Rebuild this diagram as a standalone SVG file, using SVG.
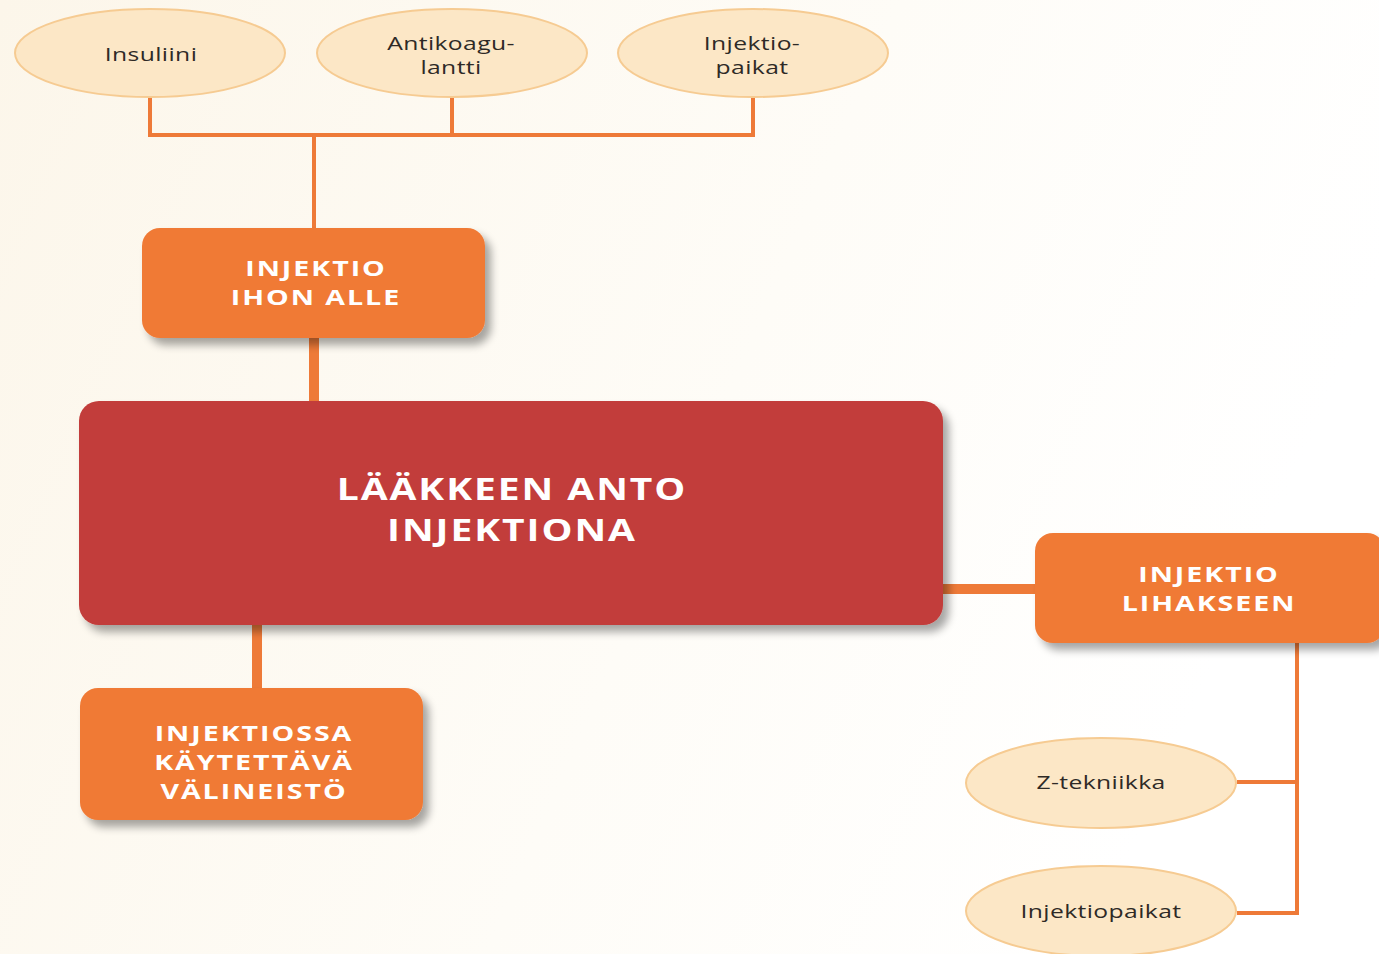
<svg xmlns="http://www.w3.org/2000/svg" width="1379" height="954" viewBox="0 0 1379 954">
<defs>
<filter id="sh" x="-10%" y="-10%" width="125%" height="135%">
<feGaussianBlur in="SourceAlpha" stdDeviation="4"/>
<feOffset dx="6" dy="7" result="b"/>
<feComponentTransfer><feFuncA type="linear" slope="0.35"/></feComponentTransfer>
<feMerge><feMergeNode/><feMergeNode in="SourceGraphic"/></feMerge>
</filter>
<linearGradient id="bg" x1="0" y1="0" x2="1" y2="0.3">
<stop offset="0" stop-color="#FCF6EA"/>
<stop offset="0.6" stop-color="#FEFCF7"/>
<stop offset="1" stop-color="#FFFFFF"/>
</linearGradient>
</defs>
<style>
.ell{fill:#FCE7C6;stroke:#F6CB92;stroke-width:2}
.et{font-family:"Open Sans","DejaVu Sans",sans-serif;font-size:19px;fill:#2E2A26;text-anchor:middle;letter-spacing:0.3px}
.box{fill:#F07A35}
.main{fill:#C23C3A}
.bt{font-family:"Open Sans","DejaVu Sans",sans-serif;font-weight:bold;font-size:22px;fill:#FFFFFF;text-anchor:middle;letter-spacing:1.5px}
.mt{font-family:"Open Sans","DejaVu Sans",sans-serif;font-weight:bold;font-size:30px;fill:#FFFFFF;text-anchor:middle;letter-spacing:1.5px}
.thin{stroke:#EE7A38;stroke-width:4;fill:none}
.thick{stroke:#EE7A38;stroke-width:10;fill:none}
</style>
<rect width="1379" height="954" fill="url(#bg)"/>
<g id="connectors">
<path class="thin" d="M150 97 V135 M452 97 V135 M753 97 V135 M148 135 H755 M314 135 V228"/>
<path class="thick" d="M314 338 V401"/>
<path class="thick" d="M257 625 V688"/>
<path class="thick" d="M943 589 H1035"/>
<path class="thin" d="M1297 643 V913 M1237 782 H1297 M1237 913 H1299"/>
</g>
<g id="insuliini">
<ellipse class="ell" cx="150" cy="53" rx="135" ry="44"/>
<text class="et" transform="translate(151,61) scale(1.3,1)">Insuliini</text>
</g>
<g id="antikoagulantti">
<ellipse class="ell" cx="452" cy="53" rx="135" ry="44"/>
<text class="et" transform="translate(451,50) scale(1.3,1)">Antikoagu-</text>
<text class="et" transform="translate(451,74) scale(1.3,1)">lantti</text>
</g>
<g id="injektiopaikat-top">
<ellipse class="ell" cx="753" cy="53" rx="135" ry="44"/>
<text class="et" transform="translate(752,50) scale(1.3,1)">Injektio-</text>
<text class="et" transform="translate(752,74) scale(1.3,1)">paikat</text>
</g>
<g id="ihon-alle">
<rect class="box" x="142" y="228" width="343" height="110" rx="18" filter="url(#sh)"/>
<text class="bt" transform="translate(316,276) scale(1.3,1)">INJEKTIO</text>
<text class="bt" transform="translate(316,305) scale(1.3,1)">IHON ALLE</text>
</g>
<g id="main">
<rect class="main" x="79" y="401" width="864" height="224" rx="20" filter="url(#sh)"/>
<text class="mt" transform="translate(512,500) scale(1.3,1)">LÄÄKKEEN ANTO</text>
<text class="mt" transform="translate(512,541) scale(1.3,1)">INJEKTIONA</text>
</g>
<g id="valineisto">
<rect class="box" x="80" y="688" width="343" height="132" rx="18" filter="url(#sh)"/>
<text class="bt" transform="translate(254,741) scale(1.3,1)">INJEKTIOSSA</text>
<text class="bt" transform="translate(254,770) scale(1.3,1)">KÄYTETTÄVÄ</text>
<text class="bt" transform="translate(254,799) scale(1.3,1)">VÄLINEISTÖ</text>
</g>
<g id="lihakseen">
<rect class="box" x="1035" y="533" width="350" height="110" rx="18" filter="url(#sh)"/>
<text class="bt" transform="translate(1209,582) scale(1.3,1)">INJEKTIO</text>
<text class="bt" transform="translate(1209,611) scale(1.3,1)">LIHAKSEEN</text>
</g>
<g id="z-tekniikka">
<ellipse class="ell" cx="1101" cy="783" rx="135" ry="45"/>
<text class="et" transform="translate(1101,789) scale(1.3,1)">Z-tekniikka</text>
</g>
<g id="injektiopaikat-bottom">
<ellipse class="ell" cx="1101" cy="911" rx="135" ry="45"/>
<text class="et" transform="translate(1101,918) scale(1.3,1)">Injektiopaikat</text>
</g>
</svg>
